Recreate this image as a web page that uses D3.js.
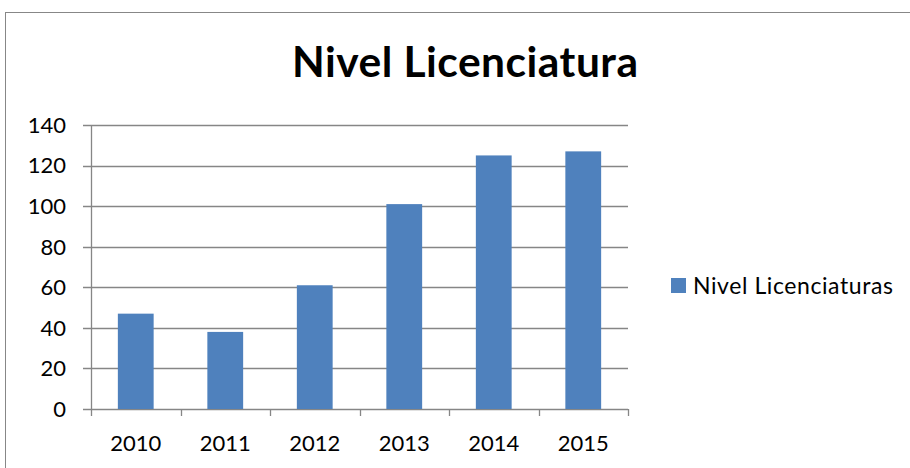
<!DOCTYPE html>
<html>
<head>
<meta charset="utf-8">
<script src="https://cdn.jsdelivr.net/npm/d3@7"></script>
<style>
  html, body { margin: 0; padding: 0; background: #fff; }
  svg { display: block; font-family: Lato, "Open Sans", sans-serif; }
</style>
</head>
<body>
<svg id="chart" width="910" height="468"></svg>
<script>
const categories = ["2010", "2011", "2012", "2013", "2014", "2015"];
const values = [47, 38, 61, 101, 125, 127];
const yTicks = [0, 20, 40, 60, 80, 100, 120, 140];
const seriesName = "Nivel Licenciaturas";
const chartTitle = "Nivel Licenciatura";

const svg = d3.select("#chart");
const plot = { left: 91, right: 628, top: 125, bottom: 409 };

// outer border (chart area)
svg.append("rect")
  .attr("x", 5.5).attr("y", 12.5)
  .attr("width", 1000).attr("height", 1000)
  .attr("fill", "#fff").attr("stroke", "#878787").attr("stroke-width", 1);

const x = d3.scaleBand().domain(categories)
  .range([plot.left, plot.right]).paddingInner(0.6).paddingOuter(0.3);
const y = d3.scaleLinear().domain([0, 140]).range([plot.bottom, plot.top]);

// gridlines
svg.append("g").selectAll("line").data(yTicks).join("line")
  .attr("x1", plot.left - 8).attr("x2", plot.right)
  .attr("y1", d => Math.round(y(d)) + 0.5).attr("y2", d => Math.round(y(d)) + 0.5)
  .attr("stroke", "#868686").attr("stroke-width", 1.3);

// bars
svg.append("g").selectAll("rect").data(values).join("rect")
  .attr("x", (d, i) => x(categories[i]))
  .attr("width", x.bandwidth())
  .attr("y", d => y(d))
  .attr("height", d => y(0) - y(d))
  .attr("fill", "#4F81BD");

// y axis line
svg.append("line")
  .attr("x1", plot.left + 0.5).attr("x2", plot.left + 0.5)
  .attr("y1", plot.top).attr("y2", plot.bottom + 7)
  .attr("stroke", "#868686").attr("stroke-width", 1.3);

// x axis ticks at category boundaries
const boundaries = d3.range(categories.length + 1).map(i => plot.left + i * (plot.right - plot.left) / categories.length);
svg.append("g").selectAll("line").data(boundaries.slice(1)).join("line")
  .attr("x1", d => Math.round(d) + 0.5).attr("x2", d => Math.round(d) + 0.5)
  .attr("y1", plot.bottom).attr("y2", plot.bottom + 7)
  .attr("stroke", "#868686").attr("stroke-width", 1.3);

// y tick labels
svg.append("g").selectAll("text").data(yTicks).join("text")
  .attr("x", 66).attr("y", d => y(d))
  .attr("dy", "0.36em")
  .attr("text-anchor", "end")
  .attr("font-size", 22).attr("fill", "#000")
  .text(d => d);

// x tick labels
svg.append("g").selectAll("text").data(categories).join("text")
  .attr("x", d => x(d) + x.bandwidth() / 2)
  .attr("y", 451)
  .attr("text-anchor", "middle")
  .attr("font-size", 22).attr("fill", "#000")
  .text(d => d);

// title
svg.append("text")
  .attr("x", 465).attr("y", 77)
  .attr("text-anchor", "middle")
  .attr("font-size", 42.5).attr("font-weight", "bold").attr("fill", "#000")
  .attr("textLength", 346).attr("lengthAdjust", "spacing")
  .text(chartTitle);

// legend
svg.append("rect")
  .attr("x", 671).attr("y", 278).attr("width", 15).attr("height", 15)
  .attr("fill", "#4F81BD");
svg.append("text")
  .attr("x", 693).attr("y", 286)
  .attr("dy", "0.36em")
  .attr("font-size", 23).attr("fill", "#000")
  .attr("textLength", 200).attr("lengthAdjust", "spacing")
  .text(seriesName);
</script>
</body>
</html>
